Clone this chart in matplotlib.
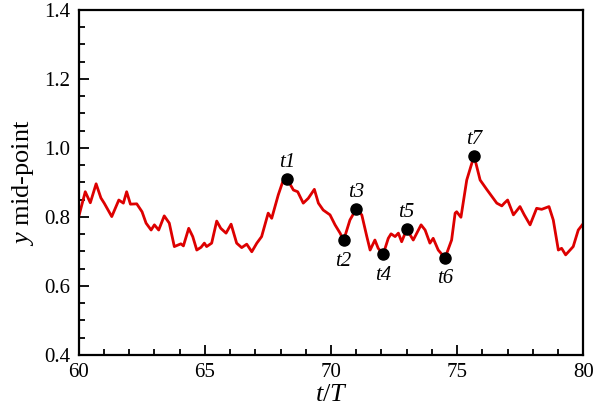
import matplotlib
matplotlib.use("Agg")
import matplotlib.pyplot as plt
from matplotlib.ticker import MultipleLocator

t_vals = [60.02, 60.26, 60.46, 60.69, 60.88, 61.01, 61.31, 61.59, 61.77, 61.90,
          62.05, 62.30, 62.51, 62.67, 62.87, 63.00, 63.17, 63.39, 63.59, 63.79,
          64.05, 64.15, 64.36, 64.52, 64.68, 64.85, 64.98, 65.07, 65.27, 65.47,
          65.63, 65.84, 66.04, 66.26, 66.46, 66.66, 66.86, 67.06, 67.25, 67.51,
          67.65, 67.91, 68.11, 68.26, 68.51, 68.68, 68.90, 69.10, 69.34, 69.50,
          69.69, 69.96, 70.16, 70.36, 70.50, 70.75, 70.99, 71.22, 71.42, 71.55,
          71.74, 71.87, 72.07, 72.27, 72.38, 72.54, 72.67, 72.80, 73.00, 73.26,
          73.57, 73.73, 73.92, 74.05, 74.25, 74.52, 74.78, 74.92, 74.98, 75.15,
          75.38, 75.67, 75.91, 76.17, 76.57, 76.77, 76.87, 77.00, 77.23, 77.49,
          77.66, 77.89, 78.15, 78.35, 78.64, 78.81, 79.01, 79.14, 79.30, 79.60,
          79.80, 79.96]
y_vals = [0.806, 0.873, 0.841, 0.896, 0.855, 0.840, 0.801, 0.849, 0.840, 0.873,
          0.837, 0.838, 0.815, 0.782, 0.762, 0.777, 0.762, 0.803, 0.782, 0.714,
          0.722, 0.716, 0.767, 0.743, 0.704, 0.712, 0.724, 0.714, 0.724, 0.788,
          0.767, 0.753, 0.779, 0.724, 0.711, 0.721, 0.699, 0.724, 0.743, 0.811,
          0.796, 0.864, 0.907, 0.910, 0.878, 0.873, 0.840, 0.854, 0.880, 0.840,
          0.820, 0.806, 0.777, 0.753, 0.732, 0.791, 0.822, 0.806, 0.743, 0.704,
          0.733, 0.709, 0.692, 0.738, 0.751, 0.743, 0.753, 0.728, 0.764, 0.733,
          0.777, 0.762, 0.724, 0.738, 0.704, 0.681, 0.733, 0.811, 0.815, 0.799,
          0.907, 0.977, 0.907, 0.880, 0.840, 0.832, 0.840, 0.849, 0.806, 0.830,
          0.806, 0.777, 0.825, 0.822, 0.830, 0.791, 0.704, 0.709, 0.690, 0.714,
          0.762, 0.777]

snap_labels = ["t1", "t2", "t3", "t4", "t5", "t6", "t7"]
snap_t = [68.26, 70.50, 70.99, 72.07, 73.00, 74.52, 75.67]
snap_y = [0.910, 0.732, 0.822, 0.692, 0.764, 0.681, 0.977]
snap_pos = ["above", "below", "above", "below", "above", "below", "above"]

plt.rcParams['font.family'] = ['Liberation Serif', 'DejaVu Serif']
plt.rcParams['mathtext.fontset'] = 'custom'
plt.rcParams['mathtext.it'] = 'Liberation Serif:italic'
plt.rcParams['mathtext.rm'] = 'Liberation Serif'

fig = plt.figure(figsize=(5.94, 4.17), dpi=100)
ax = fig.add_axes([0.1325, 0.149, 0.8495, 0.827])

ax.plot(t_vals, y_vals, color='#dd0000', lw=2.0, zorder=2)
ax.plot(snap_t, snap_y, 'o', color='black', ms=8, zorder=3)

for lab, tx, ty, pos in zip(snap_labels, snap_t, snap_y, snap_pos):
    dy = 12 if pos == "above" else -15
    ax.annotate(lab, (tx, ty), xytext=(0, dy), textcoords='offset points',
                ha='center', va='center', fontsize=15, style='italic')

ax.set_xlim(60, 80)
ax.set_ylim(0.4, 1.4)
ax.xaxis.set_major_locator(MultipleLocator(5))
ax.xaxis.set_minor_locator(MultipleLocator(1))
ax.yaxis.set_major_locator(MultipleLocator(0.2))
ax.yaxis.set_minor_locator(MultipleLocator(0.05))
ax.yaxis.set_major_formatter(matplotlib.ticker.FormatStrFormatter('%.1f'))
ax.tick_params(which='both', direction='in', top=False, right=False,
               labelsize=15, width=1.3)
ax.tick_params(which='major', length=7, pad=6)
ax.tick_params(which='minor', length=4)
for s in ax.spines.values():
    s.set_linewidth(1.6)

ax.set_xlabel('$t/T$', fontsize=19, labelpad=1)
ax.set_ylabel('$y$ mid-point', fontsize=19, labelpad=6)

fig.savefig('out.png', dpi=100)
